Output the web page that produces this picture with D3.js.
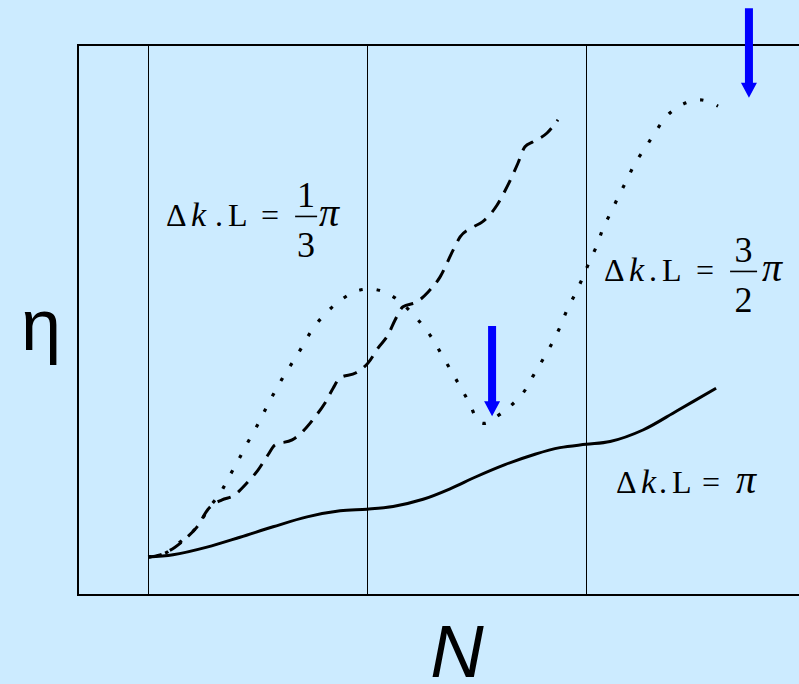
<!DOCTYPE html>
<html>
<head>
<meta charset="utf-8">
<script src="https://cdn.jsdelivr.net/npm/d3@7"></script>
<style>
  html, body { margin: 0; padding: 0; background: #CCEBFF; overflow: hidden; }
  svg { display: block; }
</style>
</head>
<body>
<svg id="chart" width="799" height="684"></svg>
<script>
// Conversion efficiency η versus number of sections N for three phase mismatches.
const gridN = [1, 2, 3];

// Δk.L = π (solid)
const solidN   = [1.000, 1.114, 1.269, 1.420, 1.571, 1.726, 1.877, 2.000, 2.119, 2.256, 2.379, 2.498, 2.630, 2.767, 2.881, 3.000, 3.110, 3.260, 3.416, 3.594];
const solidEta = [6.9, 7.3, 8.7, 10.5, 12.4, 14.2, 15.3, 15.6, 16.1, 17.4, 19.3, 21.5, 23.7, 25.6, 26.8, 27.4, 27.9, 30.0, 33.5, 37.6];

// Δk.L = π/3 (dashed)
const dashN   = [1.000, 1.055, 1.123, 1.178, 1.224, 1.274, 1.338, 1.388, 1.452, 1.502, 1.548, 1.580, 1.658, 1.708, 1.763, 1.808, 1.845, 1.877, 1.950, 2.005, 2.050, 2.096, 2.128, 2.164, 2.228, 2.279, 2.333, 2.393, 2.425, 2.484, 2.525, 2.594, 2.639, 2.689, 2.721, 2.758, 2.822, 2.872];
const dashEta = [6.9, 7.3, 8.7, 10.5, 12.4, 15.6, 17.3, 18.0, 20.4, 22.7, 25.5, 27.3, 28.2, 29.8, 32.4, 34.9, 37.6, 39.5, 40.4, 42.2, 44.9, 47.3, 50.0, 52.4, 53.3, 55.1, 57.8, 62.7, 65.1, 66.9, 67.8, 70.9, 74.2, 78.5, 81.5, 82.4, 84.0, 86.4];

// Δk.L = 3π/2 (dotted)
const dotN   = [1.000, 1.078, 1.123, 1.224, 1.274, 1.329, 1.370, 1.411, 1.452, 1.493, 1.530, 1.571, 1.612, 1.658, 1.703, 1.749, 1.813, 1.886, 1.954, 2.027, 2.100, 2.174, 2.242, 2.297, 2.342, 2.388, 2.429, 2.470, 2.507, 2.539, 2.575, 2.644, 2.712, 2.758, 2.804, 2.845, 2.881, 2.913, 2.950, 2.986, 3.014, 3.050, 3.078, 3.114, 3.151, 3.187, 3.224, 3.274, 3.320, 3.379, 3.457, 3.530, 3.603];
const dotEta = [6.9, 7.6, 8.9, 12.4, 15.6, 18.5, 21.5, 24.4, 27.5, 30.4, 33.3, 36.4, 39.3, 42.2, 45.1, 48.2, 51.3, 53.8, 55.3, 55.6, 54.7, 52.5, 49.6, 46.7, 43.6, 40.5, 37.6, 34.7, 31.6, 31.2, 32.0, 34.0, 36.7, 39.8, 42.9, 45.8, 48.7, 51.8, 54.7, 57.8, 60.5, 63.6, 66.7, 69.6, 72.7, 75.5, 78.5, 81.5, 84.4, 87.5, 89.5, 90.0, 88.9];

// Arrows marking the minimum and maximum of the dotted curve
const arrowN    = [2.571, 3.744];
const arrowFrom = [48.9, 106.7];
const arrowTo   = [32.5, 90.4];

const svg = d3.select("#chart");
const W = 799, H = 684;
const mLeft = 78, mRight = 805, mTop = 45, mBottom = 595;

const x = d3.scaleLinear().domain([0.68, 4.0]).range([mLeft, mRight]);
const y = d3.scaleLinear().domain([0, 100]).range([mBottom, mTop]);

svg.append("rect").attr("width", W).attr("height", H).attr("fill", "#CCEBFF");

// frame
svg.append("rect")
  .attr("x", mLeft).attr("y", mTop)
  .attr("width", mRight + 10 - mLeft).attr("height", mBottom - mTop)
  .attr("fill", "none").attr("stroke", "#000").attr("stroke-width", 2);

// section boundaries
svg.selectAll("line.grid").data(gridN).enter().append("line")
  .attr("class", "grid")
  .attr("x1", d => Math.round(x(d)) + 0.5).attr("x2", d => Math.round(x(d)) + 0.5)
  .attr("y1", mTop).attr("y2", mBottom)
  .attr("stroke", "#000").attr("stroke-width", 1);

const zip = (a, b) => a.map((v, i) => [v, b[i]]);
const smooth = d3.line().x(d => x(d[0])).y(d => y(d[1])).curve(d3.curveCatmullRom.alpha(0.5));
const line = d3.line().x(d => x(d[0])).y(d => y(d[1])).curve(d3.curveMonotoneX);

svg.append("path").datum(zip(solidN, solidEta))
  .attr("d", smooth).attr("fill", "none").attr("stroke", "#000")
  .attr("stroke-width", 3);

svg.append("path").datum(zip(dashN, dashEta))
  .attr("d", line).attr("fill", "none").attr("stroke", "#000")
  .attr("stroke-width", 3).attr("stroke-dasharray", "14,9");

svg.append("path").datum(zip(dotN, dotEta))
  .attr("d", smooth).attr("fill", "none").attr("stroke", "#000")
  .attr("stroke-width", 3.2).attr("stroke-dasharray", "3.5,14");

// blue arrows
arrowN.forEach((n, i) => {
  const cx = x(n), y0 = y(arrowFrom[i]), y1 = y(arrowTo[i]);
  const hw = 8, sw = 4, hl = 15;
  const pts = [[cx - sw, y0], [cx + sw, y0], [cx + sw, y1 - hl], [cx + hw, y1 - hl],
               [cx, y1], [cx - hw, y1 - hl], [cx - sw, y1 - hl]];
  svg.append("polygon").attr("points", pts.map(p => p.join(",")).join(" "))
    .attr("fill", "#0000FF");
});

// Δk.L labels
const serif = "Liberation Serif, Times New Roman, serif";
function label(n, eta, lOff, eqOff, fracOff, piOff, frac, barW) {
  const g = svg.append("g")
    .attr("transform", `translate(${x(n)},${y(eta)})`)
    .attr("font-family", serif).attr("fill", "#000");
  const t = (txt, dx, opts = {}) => g.append("text").attr("x", dx).attr("y", opts.dy || 0)
    .attr("font-size", opts.size || 32).attr("font-style", opts.italic ? "italic" : "normal")
    .attr("text-anchor", opts.anchor || "start").text(txt);
  t("Δ", -1);
  t("k", 24, { italic: true, size: 34 });
  t(".", lOff - 13);
  t("L", lOff);
  t("=", eqOff);
  if (frac) {
    const cx = fracOff + barW / 2;
    g.append("line").attr("x1", fracOff).attr("x2", fracOff + barW)
      .attr("y1", -9.5).attr("y2", -9.5).attr("stroke", "#000").attr("stroke-width", 1.6);
    t(frac[0], cx, { size: 36, anchor: "middle", dy: -19 });
    t(frac[1], cx, { size: 36, anchor: "middle", dy: 31 });
  }
  t("π", piOff, { italic: true, size: 40 });
}
label(1.087, 67.1, 61, 94, 128, 152, ["1", "3"], 22);
label(3.087, 57.1, 57, 91, 125, 157, ["3", "2"], 27);
label(3.142, 18.5, 55, 85, 0, 119, null, 0);

// axis titles
svg.append("text").attr("x", 41).attr("y", 350)
  .attr("text-anchor", "middle")
  .attr("font-family", "Liberation Sans, Arial, sans-serif")
  .attr("font-size", 72).text("η");

svg.append("text").attr("x", 457).attr("y", 677)
  .attr("text-anchor", "middle")
  .attr("font-family", "Liberation Sans, Arial, sans-serif")
  .attr("font-style", "italic")
  .attr("font-size", 74).text("N");
</script>
</body>
</html>
